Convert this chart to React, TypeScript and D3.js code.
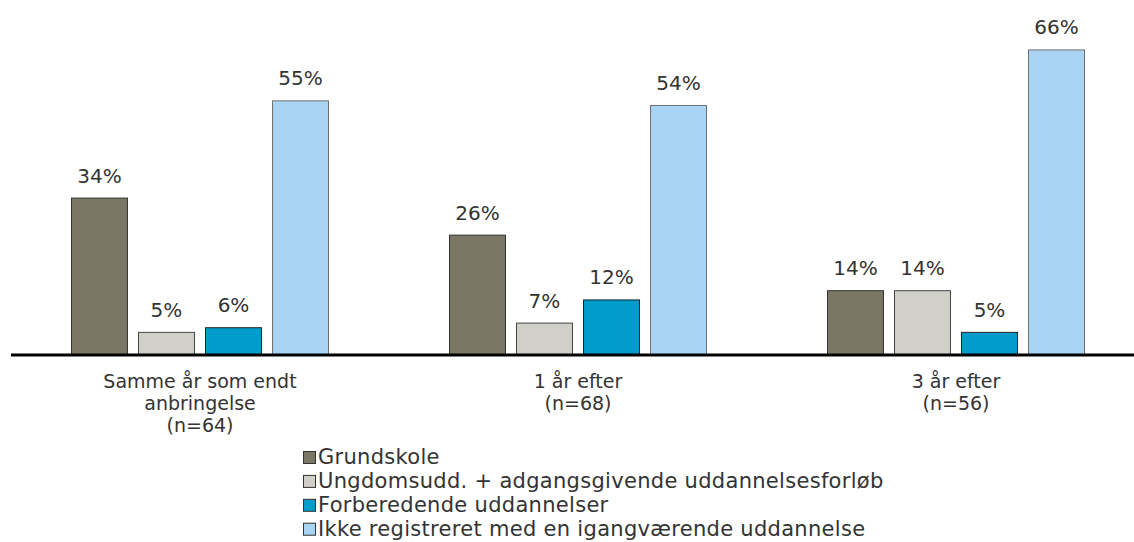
import React from "react";
import * as d3 from "d3";

const categories = [
  ["Samme år som endt", "anbringelse", "(n=64)"],
  ["1 år efter", "(n=68)"],
  ["3 år efter", "(n=56)"],
];
const seriesNames = [
  "Grundskole",
  "Ungdomsudd. + adgangsgivende uddannelsesforløb",
  "Forberedende uddannelser",
  "Ikke registreret med en igangværende uddannelse",
];
const grundskole = [34, 26, 14];
const ungdomsudd = [5, 7, 14];
const forberedende = [6, 12, 5];
const ikkeRegistreret = [55, 54, 66];
const colors = ["#7a7764", "#d0d0c8", "#009ccc", "#a9d4f3"];
const strokes = ["#333333", "#444444", "#222222", "#707070"];

const W = 1134, H = 542;
const font = "'DejaVu Sans', Verdana, sans-serif";

export default function App() {
  const values = [grundskole, ungdomsudd, forberedende, ikkeRegistreret];
  const catIdx = categories.map((_, i) => i);
  const serIdx = seriesNames.map((_, i) => i);

  const x0 = d3.scaleBand<number>().domain(catIdx).range([11, 1145]);
  const x1 = d3.scaleBand<number>().domain(serIdx).range([60, 318]).paddingInner(0.15).paddingOuter(0);
  const y = d3.scaleLinear().domain([0, 70]).range([355, 355 - 70 * 4.63]);

  return (
    <svg width={W} height={H} style={{ position: "fixed", left: 0, top: 0, background: "#fff" }} fontFamily={font}>
      {catIdx.map((c) => (
        <g key={c} transform={`translate(${x0(c)},0)`}>
          {serIdx.map((s) => {
            const v = values[s][c];
            const bx = x1(s)!;
            return (
              <g key={s}>
                <rect
                  x={bx + 0.5}
                  y={y(v) + 0.5}
                  width={x1.bandwidth() - 1}
                  height={y(0) - y(v)}
                  fill={colors[s]}
                  stroke={strokes[s]}
                  strokeWidth={1}
                />
                <text x={bx + x1.bandwidth() / 2} y={y(v) - 15} textAnchor="middle" fontSize={20} fill="#333">
                  {v}%
                </text>
              </g>
            );
          })}
          <text textAnchor="middle" fontSize={19} fill="#333">
            {categories[c].map((line, i) => (
              <tspan key={i} x={x0.bandwidth() / 2} y={388 + i * 22}>{line}</tspan>
            ))}
          </text>
        </g>
      ))}
      <line x1={11} x2={W} y1={355} y2={355} stroke="#000" strokeWidth={3} />
      <g>
        {seriesNames.map((name, i) => (
          <g key={i} transform={`translate(303,${464 + i * 23.9})`}>
            <rect x={0.5} y={-12.5} width={12} height={12} fill={colors[i]} stroke="#333" strokeWidth={1} />
            <text x={15} y={0} fontSize={21} letterSpacing={0.3} fill="#333">{name}</text>
          </g>
        ))}
      </g>
    </svg>
  );
}
